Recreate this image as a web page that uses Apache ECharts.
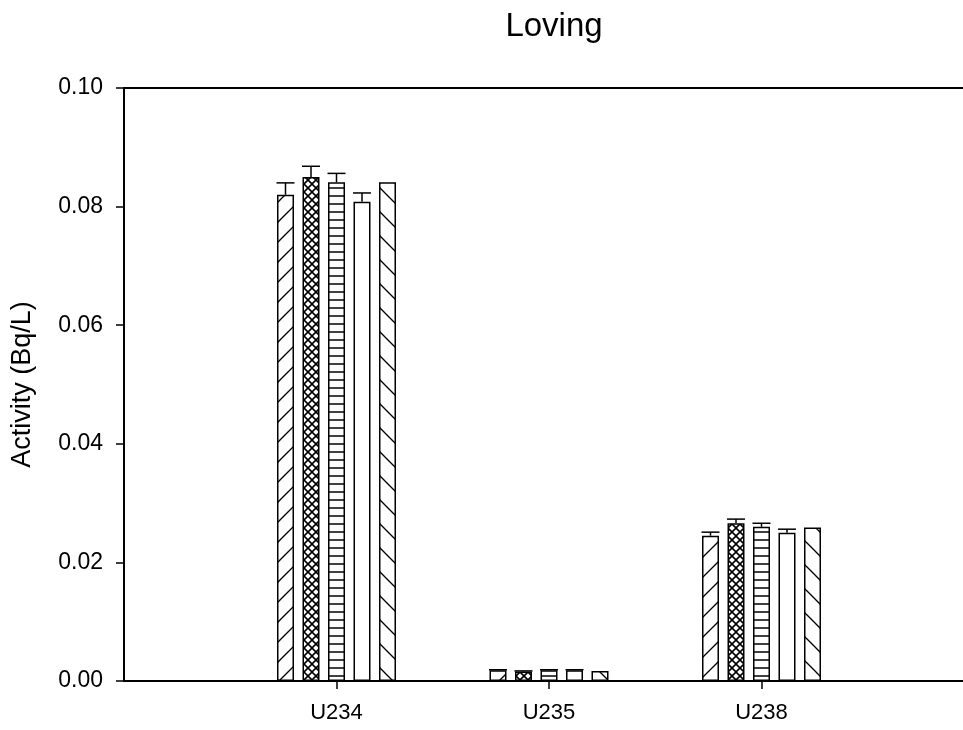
<!DOCTYPE html>
<html>
<head>
<meta charset="utf-8">
<script src="https://cdn.jsdelivr.net/npm/echarts@6/dist/echarts.min.js"></script>
<style>
html,body{margin:0;padding:0;background:#fff;}
#chart{width:963px;height:730px;}
</style>
</head>
<body>
<div id="chart"></div>
<script>
// ---- data ----
const categories = ['U234', 'U235', 'U238'];
const s1 = [0.0820, 0.0018, 0.0245];
const s2 = [0.0850, 0.0016, 0.0266];
const s3 = [0.0841, 0.0018, 0.0260];
const s4 = [0.0808, 0.0018, 0.0250];
const s5 = [0.0841, 0.0017, 0.0259];
const e1 = [0.0020, 0.0001, 0.0006];
const e2 = [0.0018, 0.0001, 0.0007];
const e3 = [0.0015, 0.0001, 0.0006];
const e4 = [0.0015, 0.0001, 0.0006];
const e5 = [0, 0, 0];
const yTicks = ['0.00', '0.02', '0.04', '0.06', '0.08', '0.10'];

const values = [s1, s2, s3, s4, s5];
const errors = [e1, e2, e3, e4, e5];

// ---- patterns ----
function makePattern(kind) {
  const c = document.createElement('canvas');
  let size = 8;
  if (kind === 'fwd') size = 20;
  if (kind === 'back') size = 24;
  c.width = size; c.height = size;
  const g = c.getContext('2d');
  g.fillStyle = '#fff';
  g.fillRect(0, 0, size, size);
  g.strokeStyle = '#000';
  g.lineWidth = 1.3;
  function line(x1, y1, x2, y2) { g.beginPath(); g.moveTo(x1, y1); g.lineTo(x2, y2); g.stroke(); }
  if (kind === 'fwd') {
    line(-2, size + 2, size + 2, -2);
    line(-2, 2, 2, -2);
    line(size - 2, size + 2, size + 2, size - 2);
  } else if (kind === 'back') {
    line(-2, -2, size + 2, size + 2);
    line(size - 2, -2, size + 2, 2);
    line(-2, size - 2, 2, size + 2);
  } else if (kind === 'cross') {
    g.lineWidth = 1.6;
    line(-1, size + 1, size + 1, -1);
    line(-1, -1, size + 1, size + 1);
  } else if (kind === 'horiz') {
    g.lineWidth = 1.5;
    line(0, size / 2, size, size / 2);
  } else {
    return '#fff';
  }
  return { image: c, repeat: 'repeat' };
}
const kinds = ['fwd', 'cross', 'horiz', 'none', 'back'];

const axisData = [''].concat(categories).concat(['']);
function pad(arr) { return ['-'].concat(arr).concat(['-']); }

const barWidth = 17;
const barGapRatio = 0.5;
const pitch = barWidth * (1 + barGapRatio);

const series = [];
values.forEach((v, i) => {
  series.push({
    type: 'bar',
    data: pad(v),
    barWidth: barWidth,
    barGap: (barGapRatio * 100) + '%',
    itemStyle: { color: makePattern(kinds[i]), borderColor: '#000', borderWidth: 1.5 },
    emphasis: { disabled: true },
    silent: true,
    z: 2
  });
});
values.forEach((v, i) => {
  const errData = [];
  v.forEach((val, j) => { if (errors[i][j] > 0) errData.push([j + 1, val, val + errors[i][j]]); });
  series.push({
    type: 'custom',
    silent: true,
    z: 3,
    data: errData,
    renderItem: function (params, api) {
      const xIdx = api.value(0);
      const base = api.coord([xIdx, api.value(1)]);
      const top = api.coord([xIdx, api.value(2)]);
      const x = base[0] + (i - 2) * pitch;
      const half = 9;
      return {
        type: 'group',
        children: [
          { type: 'line', shape: { x1: x, y1: base[1], x2: x, y2: top[1] }, style: { stroke: '#000', lineWidth: 1.5 } },
          { type: 'line', shape: { x1: x - half, y1: top[1], x2: x + half, y2: top[1] }, style: { stroke: '#000', lineWidth: 1.5 } }
        ]
      };
    }
  });
});

const chart = echarts.init(document.getElementById('chart'), null, { renderer: 'canvas' });
chart.setOption({
  animation: false,
  backgroundColor: '#fff',
  title: {
    text: 'Loving',
    left: 549, textAlign: 'center', top: 5,
    textStyle: { fontFamily: 'Liberation Sans', fontSize: 33, fontWeight: 'normal', color: '#000' }
  },
  grid: {
    left: 124, top: 88, width: 850, bottom: 49,
    outerBoundsMode: 'none',
    containLabel: false,
    show: true, borderColor: '#000', borderWidth: 2, backgroundColor: 'transparent'
  },
  xAxis: {
    type: 'category',
    data: axisData,
    boundaryGap: false,
    axisLine: { show: true, lineStyle: { color: '#000', width: 2 } },
    axisTick: {
      show: true, length: 8, lineStyle: { color: '#000', width: 1.5 },
      interval: function (idx, val) { return val !== ''; }
    },
    axisLabel: {
      interval: 0, margin: 21, color: '#000',
      fontFamily: 'Liberation Sans', fontSize: 22
    },
    splitLine: { show: false }
  },
  yAxis: {
    type: 'value',
    min: 0, max: 0.1, interval: 0.02,
    name: 'Activity (Bq/L)',
    nameLocation: 'middle', nameRotate: 90, nameGap: 88,
    nameTextStyle: { fontFamily: 'Liberation Sans', fontSize: 27, color: '#000' },
    axisLine: { show: true, lineStyle: { color: '#000', width: 2 } },
    axisTick: { show: true, length: 8, lineStyle: { color: '#000', width: 1.5 } },
    axisLabel: {
      margin: 21, color: '#000', fontFamily: 'Liberation Sans', fontSize: 23,
      formatter: function (v) { return yTicks[Math.round(v / 0.02)]; }
    },
    splitLine: { show: false }
  },
  series: series
});
</script>
</body>
</html>
